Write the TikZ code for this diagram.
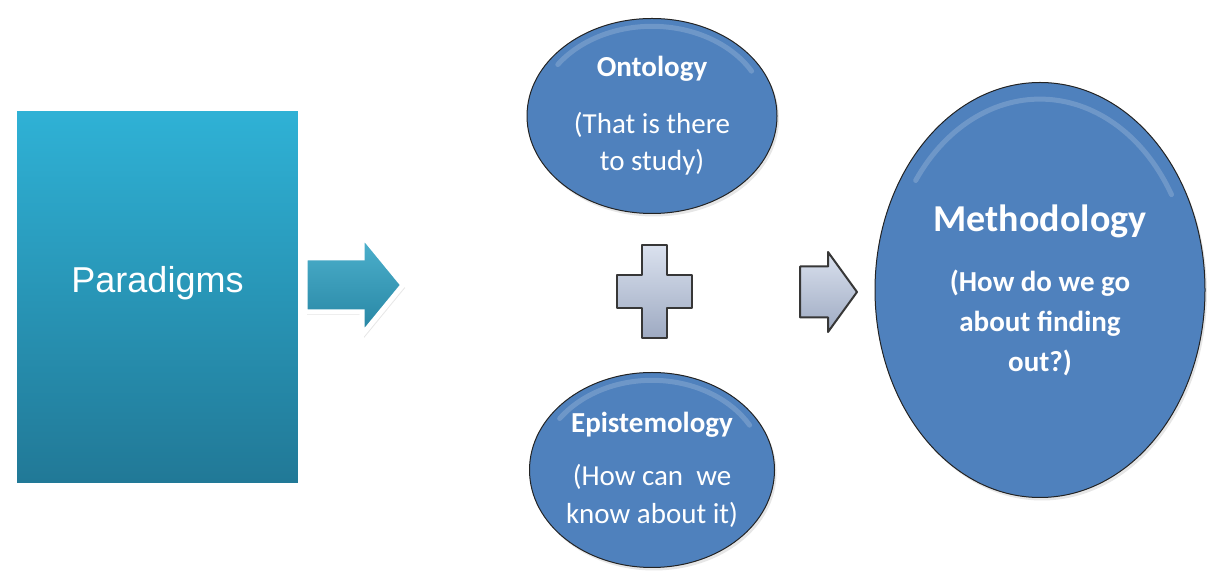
\documentclass[tikz,border=0pt]{standalone}
\usepackage{fontspec}
\setmainfont{Carlito}
\newfontfamily\paradigmfont{Liberation Sans}
\usepackage{tikz}
\usetikzlibrary{shapes.geometric,positioning,calc,shadows}
\definecolor{paraTop}{RGB}{47,178,214}
\definecolor{paraBottom}{RGB}{33,120,150}
\definecolor{paraArrowTop}{RGB}{78,178,206}
\definecolor{paraArrowBottom}{RGB}{38,132,162}
\definecolor{conceptFill}{RGB}{79,129,189}
\definecolor{conceptLine}{RGB}{35,35,35}
\definecolor{signTop}{RGB}{218,225,238}
\definecolor{signBottom}{RGB}{158,170,194}
\definecolor{signLine}{RGB}{55,55,55}
\tikzset{
  parabox/.style={rectangle, draw=white, line width=7pt, top color=paraTop, bottom color=paraBottom,
    minimum width=288pt, minimum height=379pt, inner sep=0pt,
    drop shadow={opacity=.22, shadow xshift=2pt, shadow yshift=-3pt}},
  paratext/.style={text=white, inner sep=0pt, font=\paradigmfont\fontsize{36}{42}\selectfont},
  paraarrow/.style={draw=white, line width=5pt, line join=miter, top color=paraArrowTop, bottom color=paraArrowBottom,
    drop shadow={opacity=.2, shadow xshift=2pt, shadow yshift=-3pt}},
  conceptoval/.style={ellipse, draw=conceptLine, line width=1pt, fill=conceptFill, inner sep=0pt,
    align=center, text=white,
    drop shadow={opacity=.2, shadow xshift=2pt, shadow yshift=-3pt},
    path picture={
      \draw[white, opacity=.18, line width=5pt, line cap=round]
        let \p1=(path picture bounding box.north east), \p2=(path picture bounding box.center),
            \n1={0.92*(\x1-\x2)}, \n2={0.92*(\y1-\y2)} in
        (\p2) ++(145:\n1 and \n2) arc[start angle=145, end angle=30, x radius=\n1, y radius=\n2];
    }},
  signshape/.style={draw=signLine, line width=2pt, line join=round, top color=signTop, bottom color=signBottom},
}

\begin{document}
\begin{tikzpicture}[x=1pt,y=1pt]
  \useasboundingbox (0,0) rectangle (1207,575);

  \node[parabox] (para) at (157.5,277.5) {};
  \node[paratext] (paralabel) at ([yshift=14pt]para.center) {Paradigms};
  \coordinate (paratail) at ([yshift=12.5pt]para.east);
  \draw[paraarrow] ([yshift=27pt]paratail) -- ++(57,0) -- ++(0,23) -- ++(41,-50)
    -- ++(-41,-50) -- ++(0,23) -- ++(-57,0) -- cycle;

  \node[conceptoval, minimum width=250pt, minimum height=195pt, font=\fontsize{29}{37}\selectfont] (onto) at (652,459)
    {\textbf{Ontology}\\[20pt](That is there\\to study)};
  \node[conceptoval, minimum width=245pt, minimum height=195pt, font=\fontsize{29}{38}\selectfont] (episte) at (652,105)
    {\textbf{Epistemology}\\[15pt](How can\ \ we\\know about it)};
  \node[conceptoval, minimum width=330pt, minimum height=415pt, font=\fontsize{29}{40}\selectfont\bfseries] (method) at (1040,285)
    {{\fontsize{38}{40}\selectfont Methodology}\\[20pt](How do we go\\about finding\\out?)};

  \coordinate (plus) at (654.5,283.5);
  \draw[signshape, shift={(plus)}] (-12.5,46.5) -- (12.5,46.5) -- (12.5,16.5) -- (37.5,16.5) -- (37.5,-16.5)
    -- (12.5,-16.5) -- (12.5,-46.5) -- (-12.5,-46.5) -- (-12.5,-16.5) -- (-37.5,-16.5) -- (-37.5,16.5)
    -- (-12.5,16.5) -- cycle;

  \coordinate (fwd) at (800,283);
  \draw[signshape] ([yshift=25.5pt]fwd) -- ++(28,0) -- ++(0,14.5) -- ++(29,-40) -- ++(-29,-40)
    -- ++(0,14.5) -- ++(-28,0) -- cycle;
\end{tikzpicture}
\end{document}
